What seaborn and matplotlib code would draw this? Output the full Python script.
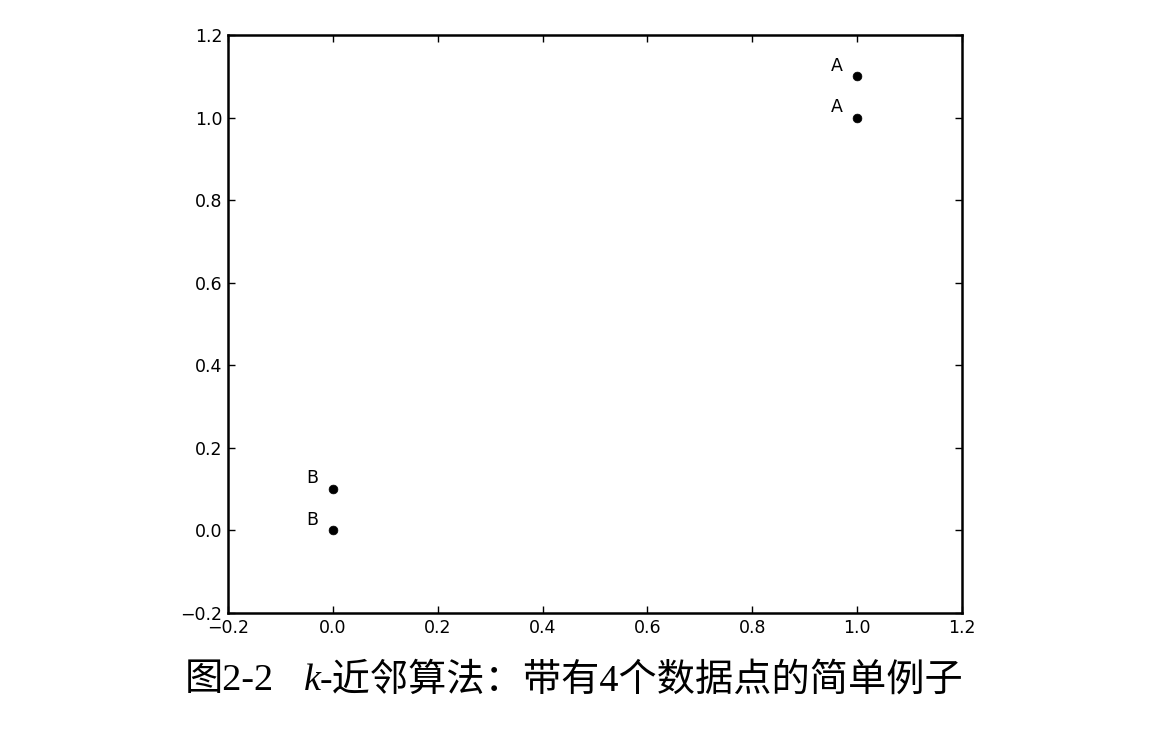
import matplotlib
matplotlib.use("Agg")
import matplotlib.pyplot as plt
import seaborn as sns
import pandas as pd

# data points and their class labels
xs = [1.0, 1.0, 0.0, 0.0]
ys = [1.1, 1.0, 0.1, 0.0]
labels = ['A', 'A', 'B', 'B']
ticks = [-0.2, 0.0, 0.2, 0.4, 0.6, 0.8, 1.0, 1.2]
caption = "图2-2"
caption_k = "k"
caption_rest = "-近邻算法：带有4个数据点的简单例子"

df = pd.DataFrame({'x': xs, 'y': ys, 'label': labels})

sns.set_style('ticks', {'xtick.direction': 'in', 'ytick.direction': 'in',
                        'axes.edgecolor': 'black', 'text.color': 'black',
                        'xtick.color': 'black', 'ytick.color': 'black'})
plt.rcParams['font.family'] = ['DejaVu Sans', 'Noto Sans CJK SC']

W, H = 1158, 733
fig = plt.figure(figsize=(W / 100, H / 100), dpi=100)
ax = fig.add_axes([228 / W, 1 - 613 / H, (962 - 228) / W, (613 - 35) / H])

sns.scatterplot(data=df, x='x', y='y', ax=ax, color='black', s=40,
                edgecolor='black', linewidth=0.5, legend=False)

# label each point a little to the upper left
for x, y, lab in zip(xs, ys, labels):
    ax.text(x - 0.028, y + 0.004, lab, ha='right', va='bottom', fontsize=12.5, color='black')

ax.set_xlim(-0.2, 1.2)
ax.set_ylim(-0.2, 1.2)
ax.set_xticks(ticks)
ax.set_yticks(ticks)
ticklabels = [f"{t:.1f}".replace('-', '\u2212') for t in ticks]
ax.set_xticklabels(ticklabels, fontsize=12.5, family='DejaVu Sans')
ax.set_yticklabels(ticklabels, fontsize=12.5, family='DejaVu Sans')
ax.set_xlabel('')
ax.set_ylabel('')
ax.tick_params(top=True, right=True, length=5, width=1, pad=4, colors='black')
for sp in ax.spines.values():
    sp.set_linewidth(1.8)
    sp.set_color('black')
    sp.set_visible(True)

# caption below the plot
cap_font = ['Liberation Serif', 'Noto Sans CJK SC']
cy = 1 - 681 / H
fig.text(185 / W, cy, caption, fontsize=27.5, va='center', ha='left', family=cap_font)
fig.text(304 / W, cy, caption_k, fontsize=27.5, va='center', ha='left',
         family='Liberation Serif', style='italic')
fig.text(320 / W, cy, caption_rest, fontsize=27.5, va='center', ha='left', family=cap_font)

fig.savefig('out.png', dpi=100)
